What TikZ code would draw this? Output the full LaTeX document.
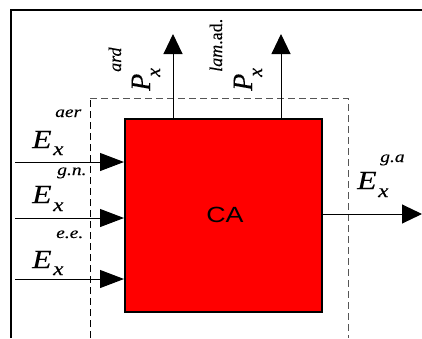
\documentclass[tikz,border=0pt]{standalone}
\usepackage{graphicx}
\usepackage{fontspec}
\setmainfont{Liberation Serif}[FakeBold=0.15]
\newfontfamily\arialf{Liberation Sans}
\usetikzlibrary{arrows.meta}
\definecolor{boxred}{HTML}{FF0000}
\definecolor{dashgray}{HTML}{555555}
\newcommand\hstretch[1]{\scalebox{1.22}[1]{#1}}
\tikzset{
  big/.style={inner sep=0pt, font=\fontsize{26}{26}\selectfont\itshape},
  sub/.style={inner sep=0pt, font=\fontsize{19}{19}\selectfont\itshape},
  sup/.style={inner sep=0pt, font=\fontsize{16}{16}\selectfont\itshape},
  tbig/.style={inner sep=0pt, rotate=90, anchor=base west, font=\fontsize{28}{28}\selectfont\itshape},
  tsub/.style={inner sep=0pt, rotate=90, anchor=base west, font=\fontsize{20}{20}\selectfont\itshape},
  tsup/.style={inner sep=0pt, rotate=90, anchor=base west, font=\fontsize{18}{18}\selectfont\itshape},
  flow/.style={line width=1pt, -{Triangle[length=24pt,width=18pt]}},
  outflow/.style={line width=1pt, -{Triangle[length=20pt,width=19pt]}},
  bound/.style={line width=1pt, dash pattern=on 7pt off 4pt},
}
\begin{document}
\begin{tikzpicture}[x=1pt,y=-1pt]
\useasboundingbox (0,0) rectangle (422,338);
% outer frame
\draw[line width=2pt] (11,338) -- (11,10) -- (422,10);
% dashed boundary
\draw[bound, black] (90,338) -- (90,98);
\draw[bound, dashgray] (90,98) -- (348,98) -- (348,338);
% CA box
\node[draw=black, fill=boxred, line width=2pt, minimum width=197pt, minimum height=193pt, inner sep=0pt, anchor=north west] (ca) at (124,118) {};
\node[font=\arialf\fontsize{22}{22}\selectfont, inner sep=0pt] (catext) at (225,215) {\hstretch{CA}};
% inputs
\coordinate (in1) at (15,162);
\coordinate (in2) at (15,218);
\coordinate (in3) at (15,279);
\draw[flow] (in1) -- (ca.west |- in1);
\draw[flow] (in2) -- (ca.west |- in2);
\draw[flow] (in3) -- (ca.west |- in3);
% output
\coordinate (out) at (422,214);
\draw[outflow] (ca.east |- out) -- (out);
% top outputs
\coordinate (up1) at (173,34);
\coordinate (up2) at (281,34);
\draw[outflow] (ca.north -| up1) -- (up1);
\draw[outflow] (ca.north -| up2) -- (up2);
% labels left
\node[big, anchor=base west] (E1) at (32,148) {\hstretch{E}};
\node[sub, anchor=base west] (x1) at (53,155) {\hstretch{x}};
\node[sup, anchor=base west] (s1) at (55,117) {\hstretch{aer}};
\node[big, anchor=base west] (E2) at (32,203) {\hstretch{E}};
\node[sub, anchor=base west] (x2) at (53,211) {\hstretch{x}};
\node[sup, anchor=base west] (s2) at (57,175) {\hstretch{g.n.}};
\node[big, anchor=base west] (E3) at (32,268) {\hstretch{E}};
\node[sub, anchor=base west] (x3) at (53,275) {\hstretch{x}};
\node[sup, anchor=base west] (s3) at (56,238) {\hstretch{e.e.}};
% label right
\node[big, anchor=base west] (E4) at (357,189) {\hstretch{E}};
\node[sub, anchor=base west] (x4) at (378,197) {\hstretch{x}};
\node[sup, anchor=base west] (s4) at (380,162) {\hstretch{g.a}};
% labels top (rotated)
\node[tbig] (P1) at (150,91) {P};
\node[tsub] (px1) at (160,77) {x};
\node[tsup] (s5) at (121,72) {ard};
\node[tbig] (P2) at (252,91) {P};
\node[tsub] (px2) at (262,77) {x};
\node[tsup] (s6) at (222,72) {lam\upshape.ad.};
\end{tikzpicture}
\end{document}
